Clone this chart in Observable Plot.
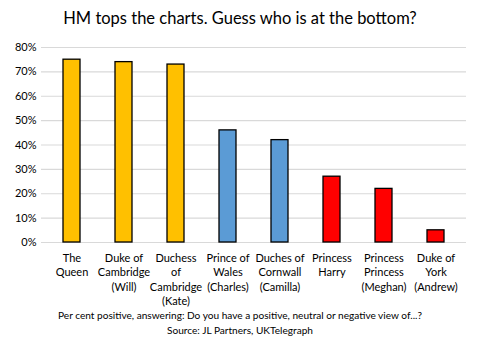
<!DOCTYPE html>
<html><head><meta charset="utf-8">
<script src="https://cdn.jsdelivr.net/npm/d3@7"></script>
<script src="https://cdn.jsdelivr.net/npm/@observablehq/plot@0.6"></script>
<style>
body{margin:0;background:#fff;font-family:Lato,"Open Sans",sans-serif;width:480px;height:355px;overflow:hidden}
#title{height:36px;line-height:36px;text-align:center;font-size:16.5px;color:#000;padding-top:0}
#cap{text-align:center;font-size:10.1px;line-height:15px;color:#000;margin-top:0}
svg{display:block}
</style></head><body>
<div id="title">HM tops the charts. Guess who is at the bottom?</div>
<div id="chart"></div>
<div id="cap">Per cent positive, answering: Do you have a positive, neutral or negative view of...?<br>Source: JL Partners, UKTelegraph</div>
<script>
const names = ["The\nQueen","Duke of\nCambridge\n(Will)","Duchess\nof\nCambridge\n(Kate)","Prince of\nWales\n(Charles)","Duches of\nCornwall\n(Camilla)","Princess\nHarry","Princess\nPrincess\n(Meghan)","Duke of\nYork\n(Andrew)"];
const values = [75, 74, 73, 46, 42, 27, 22, 5];
const groups = ["top","top","top","middle","middle","bottom","bottom","bottom"];
const yTicks = [0,10,20,30,40,50,60,70,80];
const data = names.map((n,i)=>({name:n, value:values[i], group:groups[i]}));

const chart = Plot.plot({
  width: 480, height: 272,
  marginTop: 11, marginBottom: 66, marginLeft: 41, marginRight: 14,
  style: {fontFamily: "Lato, 'Open Sans', sans-serif", fontSize: "11px", color: "#000"},
  x: {domain: names, paddingInner: 0.68, paddingOuter: 0.35, label: null},
  y: {domain: [0, 80], label: null},
  color: {domain: ["top","middle","bottom"], range: ["#FFC000","#5B9BD5","#FF0000"]},
  marks: [
    Plot.gridY(yTicks, {stroke: "#d9d9d9", strokeOpacity: 1, strokeWidth: 1.2}),
    Plot.axisY(yTicks, {tickSize: 0, tickPadding: 5, tickFormat: d => d + "%", label: null, fontSize: 11}),
    Plot.axisX({tickSize: 0, tickPadding: 9, label: null, lineHeight: 1.32, fontSize: 11}),
    Plot.barY(data, {x: "name", y: "value", fill: "group", stroke: "#000", strokeWidth: 1.3})
  ]
});
document.getElementById("chart").appendChild(chart);
</script>
</body></html>
